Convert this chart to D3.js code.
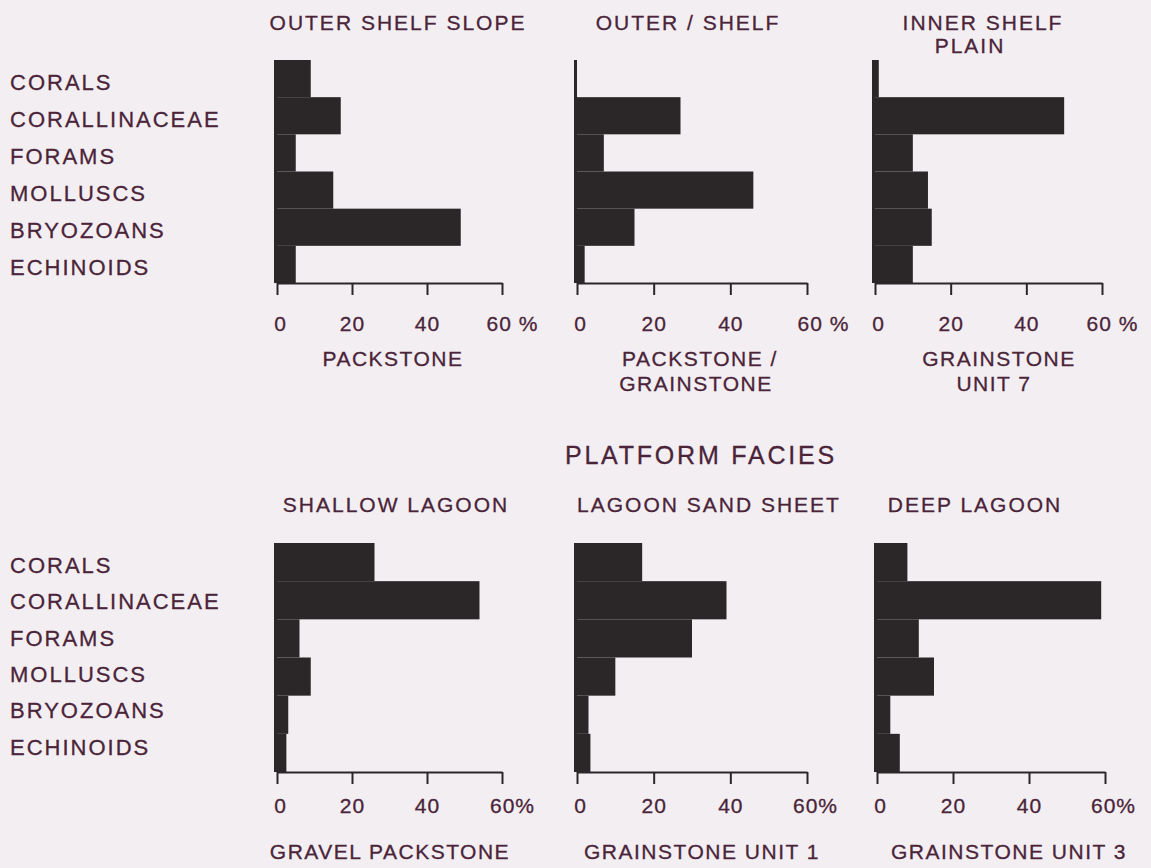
<!DOCTYPE html>
<html>
<head>
<meta charset="utf-8">
<script src="https://cdn.jsdelivr.net/npm/d3@7"></script>
<style>
  html, body { margin: 0; padding: 0; background: #f3eef2; }
  svg { display: block; }
  text { font-family: "Liberation Sans", Arial, Helvetica, sans-serif; fill: #4a2438; stroke: #4a2438; stroke-width: 0.3; }
</style>
</head>
<body>
<svg id="chart" width="1151" height="868"></svg>
<script>
// ---- data ----
const categories = ["CORALS", "CORALLINACEAE", "FORAMS", "MOLLUSCS", "BRYOZOANS", "ECHINOIDS"];

const outerShelfSlope = [9, 17, 5, 15, 49, 5];
const outerShelf      = [0, 27, 7, 46, 15, 2];
const innerShelfPlain = [1, 50, 10, 14, 15, 10];
const shallowLagoon   = [26, 54, 6, 9, 3, 2.5];
const lagoonSandSheet = [17, 39, 30, 10, 3, 3.5];
const deepLagoon      = [8, 59, 11, 15, 3.5, 6];

const topTitles    = [["OUTER SHELF SLOPE"], ["OUTER / SHELF"], ["INNER SHELF", "PLAIN"]];
const topSubtitles = [["PACKSTONE"], ["PACKSTONE /", "GRAINSTONE"], ["GRAINSTONE", "UNIT 7"]];
const bottomTitles    = [["SHALLOW LAGOON"], ["LAGOON SAND SHEET"], ["DEEP LAGOON"]];
const bottomSubtitles = [["GRAVEL PACKSTONE"], ["GRAINSTONE UNIT 1"], ["GRAINSTONE UNIT 3"]];
const sectionTitle = "PLATFORM FACIES";

const tickValues = [0, 20, 40, 60];
const topTickLabels = ["0", "20", "40", "60 %"];
const bottomTickLabels = ["0", "20", "40", "60%"];

// ---- layout ----
const svg = d3.select("#chart");
const barColor = "#2b2729";

const rows = [
  { y0: 60, y1: 283, labelRange: [63, 286], xs: [[277, 502], [577, 807], [875, 1102]],
    series: [outerShelfSlope, outerShelf, innerShelfPlain],
    titles: topTitles, subtitles: topSubtitles, tickLabels: topTickLabels,
    titleX: [[398], [688], [983, 970]], subX: [[393], [700, 696], [999, 994]],
    lastTickDx: [10, 16, 10],
    titleY: 30, tickY: 331, subY: 366 },
  { y0: 543, y1: 772, labelRange: [547, 765], xs: [[277, 502], [577, 807], [877, 1105]],
    series: [shallowLagoon, lagoonSandSheet, deepLagoon],
    titles: bottomTitles, subtitles: bottomSubtitles, tickLabels: bottomTickLabels,
    titleX: [[396], [709], [975]], subX: [[390], [702], [1009]],
    lastTickDx: [10, 8, 8],
    titleY: 512, tickY: 813, subY: 859 }
];

rows.forEach(row => {
  const y = d3.scaleBand().domain(categories).range([row.y0, row.y1]).padding(0);
  const yl = d3.scaleBand().domain(categories).range(row.labelRange).padding(0);

  // category labels
  svg.append("g").selectAll("text").data(categories).join("text")
    .attr("x", 10)
    .attr("y", d => yl(d) + yl.bandwidth() / 2)
    .attr("dy", "0.36em")
    .attr("font-size", 22)
    .attr("letter-spacing", 2)
    .text(d => d);

  row.series.forEach((vals, i) => {
    const x = d3.scaleLinear().domain([0, 60]).range(row.xs[i]);
    const g = svg.append("g");

    // bars
    g.selectAll("rect").data(vals).join("rect")
      .attr("x", x(0) - 3)
      .attr("y", (d, k) => y(categories[k]))
      .attr("width", d => Math.max(0, x(d) - x(0) + 3))
      .attr("height", y.bandwidth())
      .attr("fill", barColor);

    // vertical axis line
    g.append("line")
      .attr("x1", x(0) - 1.5).attr("x2", x(0) - 1.5)
      .attr("y1", row.y0).attr("y2", row.y1)
      .attr("stroke", barColor).attr("stroke-width", 3);

    // bottom axis
    const axis = d3.axisBottom(x).tickValues(tickValues).tickSize(12).tickSizeOuter(0)
      .tickFormat((d, k) => row.tickLabels[k]);
    const ag = g.append("g").attr("transform", `translate(0,${row.y1})`).call(axis);
    ag.select(".domain").attr("stroke", barColor).attr("stroke-width", 2);
    ag.selectAll(".tick line").attr("stroke", barColor).attr("stroke-width", 2);
    ag.selectAll(".tick text")
      .attr("y", row.tickY - row.y1)
      .attr("dy", 0)
      .attr("dx", (d, k) => k === 3 ? row.lastTickDx[i] : (k === 0 ? 3 : 0))
      .attr("font-size", 21)
      .attr("letter-spacing", 1)
      .attr("font-family", "Liberation Sans, Arial, sans-serif")
      .attr("fill", "#4a2438");

    // titles
    row.titles[i].forEach((t, j) => {
      svg.append("text")
        .attr("x", row.titleX[i][j])
        .attr("y", row.titleY + j * 23)
        .attr("text-anchor", "middle")
        .attr("font-size", 21)
        .attr("letter-spacing", 2)
        .text(t);
    });
    // subtitles
    row.subtitles[i].forEach((t, j) => {
      svg.append("text")
        .attr("x", row.subX[i][j])
        .attr("y", row.subY + j * 25)
        .attr("text-anchor", "middle")
        .attr("font-size", 21)
        .attr("letter-spacing", 1.5)
        .text(t);
    });
  });
});

svg.append("text")
  .attr("x", 701).attr("y", 464)
  .attr("text-anchor", "middle")
  .attr("font-size", 25)
  .attr("letter-spacing", 2.8)
  .text(sectionTitle);
</script>
</body>
</html>
